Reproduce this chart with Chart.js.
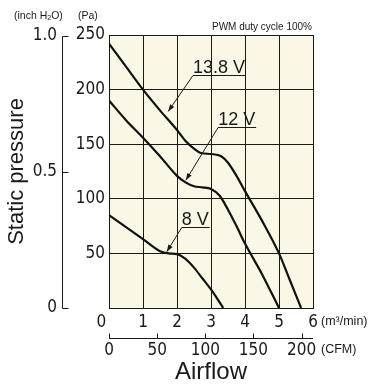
<!DOCTYPE html>
<html>
<head>
<meta charset="utf-8">
<script src="https://cdn.jsdelivr.net/npm/chart.js@4"></script>
<style>
  html, body { margin: 0; padding: 0; background: #fff; }
  canvas { display: block; }
</style>
</head>
<body>
<canvas id="chart" width="374" height="387"></canvas>
<script>
// airflow (m3/min) and static pressure (Pa)
const flow138 = [0, 0.5, 1, 1.5, 2, 2.25, 2.5, 2.7, 3.0, 3.3, 3.5, 3.75, 4, 4.5, 5, 5.3, 5.65];
const pa138 = [242, 221, 200, 181, 163, 153, 146, 142, 141, 139, 133, 121, 107, 80, 50, 27, 0];
const flow12 = [0, 0.5, 1, 1.5, 2, 2.25, 2.5, 2.75, 3.0, 3.25, 3.5, 3.75, 4, 4.5, 5];
const pa12 = [190, 172, 156, 139, 121, 115, 111.5, 110.5, 109, 103, 90, 75, 59, 31, 0];
const flow8 = [0, 0.5, 1, 1.5, 1.75, 2, 2.25, 2.5, 2.75, 3, 3.36];
const pa8 = [85, 74, 63, 52, 50, 49.3, 45, 37, 27, 17, 0];

const seriesNames = ["13.8 V", "12 V", "8 V"];

const flowTicks = [0, 1, 2, 3, 4, 5, 6];
const paTicks = [0, 50, 100, 150, 200, 250];
const cfmTicks = [0, 50, 100, 150, 200];
const inchTicks = [0, 0.5, 1.0];

const CFM_PER_M3MIN = 35.3147;
const PA_PER_INCH = 249.089;

const ink = "#1a1a1a";
const narrow = "'Liberation Sans Narrow', 'DejaVu Sans Condensed', Roboto, sans-serif";
const sans = "'Liberation Sans', Arial, sans-serif";
const tickFont = { family: narrow, size: 17 };

const toPoints = (xs, ys) => xs.map((v, i) => ({ x: v, y: ys[i] }));
const setTicks = (list) => (scale) => { scale.ticks = list.map((v) => ({ value: v })); };

// where each curve label sits (underline start, underline y, arrow tip)
const callouts = [
  { name: seriesNames[0], x0: 2.47, yLine: 213, tipX: 1.74, tipY: 180 },
  { name: seriesNames[1], x0: 3.21, yLine: 166, tipX: 2.26, tipY: 117 },
  { name: seriesNames[2], x0: 2.14, yLine: 74, tipX: 1.70, tipY: 51.5 },
];

const decor = {
  id: "decor",
  beforeDraw(chart) {
    const { ctx, chartArea: a } = chart;
    ctx.save();
    ctx.fillStyle = "#faf7e6";
    ctx.fillRect(a.left, a.top, a.right - a.left, a.bottom - a.top);
    ctx.restore();
  },
  afterDraw(chart) {
    const { ctx, scales } = chart;
    const { x, y, x2, y2 } = scales;
    ctx.save();
    ctx.strokeStyle = ink;
    ctx.fillStyle = ink;
    ctx.lineWidth = 1;

    // inch H2O axis, ticks pointing right
    const ax = Math.round(y2.right) + 0.5;
    ctx.beginPath();
    ctx.moveTo(ax, Math.round(y2.getPixelForValue(0)) + 0.5);
    ctx.lineTo(ax, Math.round(y2.getPixelForValue(1.0)) + 0.5);
    inchTicks.forEach((v) => {
      const py = Math.round(y2.getPixelForValue(v)) + 0.5;
      ctx.moveTo(ax, py);
      ctx.lineTo(ax + 6, py);
    });
    ctx.stroke();

    // CFM axis, ticks pointing up
    const ay = Math.round(x2.top) + 6.5;
    ctx.beginPath();
    ctx.moveTo(x.left, ay);
    ctx.lineTo(x.right, ay);
    cfmTicks.forEach((v) => {
      const px = Math.round(x2.getPixelForValue(v)) + 0.5;
      ctx.moveTo(px, ay);
      ctx.lineTo(px, ay - 5);
    });
    ctx.stroke();

    // unit captions
    ctx.textBaseline = "middle";
    ctx.textAlign = "left";
    ctx.font = "12.5px " + sans;
    ctx.fillText("(m\u00b3/min)", x.right + 8, x.top + 14);
    ctx.fillText("(CFM)", x.right + 8, x2.top + 18);

    ctx.font = "10.5px " + sans;
    let tx = 14;
    const ty = 16;
    ctx.fillText("(inch H", tx, ty);
    tx += ctx.measureText("(inch H").width;
    ctx.font = "7px " + sans;
    ctx.fillText("2", tx, ty + 2);
    tx += ctx.measureText("2").width;
    ctx.font = "10.5px " + sans;
    ctx.fillText("O)", tx, ty);
    ctx.fillText("(Pa)", 78, ty);

    ctx.textAlign = "right";
    ctx.font = "10px " + sans;
    ctx.fillText("PWM duty cycle 100%", x.right - 1, 27);

    // curve callouts
    ctx.textAlign = "left";
    ctx.textBaseline = "alphabetic";
    ctx.font = "18px " + sans;
    callouts.forEach((c) => {
      const lx = x.getPixelForValue(c.x0);
      const ly = Math.round(y.getPixelForValue(c.yLine)) + 0.5;
      const w = ctx.measureText(c.name).width;
      ctx.fillText(c.name, lx, ly - 3);
      const tipx = x.getPixelForValue(c.tipX);
      const tipy = y.getPixelForValue(c.tipY);
      ctx.beginPath();
      ctx.moveTo(lx + w + 1, ly);
      ctx.lineTo(lx, ly);
      ctx.lineTo(tipx, tipy);
      ctx.stroke();
      const ang = Math.atan2(tipy - ly, tipx - lx);
      ctx.beginPath();
      ctx.moveTo(tipx, tipy);
      ctx.lineTo(tipx - 7 * Math.cos(ang) + 2.5 * Math.sin(ang), tipy - 7 * Math.sin(ang) - 2.5 * Math.cos(ang));
      ctx.lineTo(tipx - 7 * Math.cos(ang) - 2.5 * Math.sin(ang), tipy - 7 * Math.sin(ang) + 2.5 * Math.cos(ang));
      ctx.closePath();
      ctx.fill();
    });
    ctx.restore();
  },
};

const lineStyle = {
  borderColor: "#111",
  borderWidth: 2.2,
  pointRadius: 0,
  cubicInterpolationMode: "monotone",
  fill: false,
};

new Chart(document.getElementById("chart"), {
  type: "line",
  data: {
    datasets: [
      { label: seriesNames[0], data: toPoints(flow138, pa138), ...lineStyle },
      { label: seriesNames[1], data: toPoints(flow12, pa12), ...lineStyle },
      { label: seriesNames[2], data: toPoints(flow8, pa8), ...lineStyle },
    ],
  },
  options: {
    responsive: false,
    animation: false,
    devicePixelRatio: 1,
    layout: { padding: { top: 35, right: 61, left: 0, bottom: 0 } },
    plugins: { legend: { display: false }, title: { display: false }, tooltip: { enabled: false } },
    scales: {
      x: {
        type: "linear",
        position: "bottom",
        weight: 0,
        min: 0,
        max: 6,
        afterBuildTicks: setTicks(flowTicks),
        afterFit: (s) => { s.height = 24; },
        grid: { color: ink, lineWidth: 1, drawTicks: false },
        border: { color: ink, width: 1 },
        ticks: {
          padding: 4,
          color: ink,
          font: tickFont,
          maxRotation: 0,
          autoSkip: false,
          callback: (v) => (v === 0 ? "0\u2003" : String(v)),
        },
      },
      x2: {
        type: "linear",
        position: "bottom",
        weight: 1,
        min: 0,
        max: 6 * CFM_PER_M3MIN,
        afterBuildTicks: setTicks(cfmTicks),
        afterFit: (s) => { s.height = 55; },
        grid: { display: false, drawTicks: false },
        border: { display: false },
        ticks: { padding: 8, color: ink, font: tickFont, maxRotation: 0, autoSkip: false },
        title: { display: true, text: "Airflow", color: ink, font: { family: sans, size: 24 }, padding: 0 },
      },
      y: {
        type: "linear",
        position: "left",
        weight: 0,
        min: 0,
        max: 250,
        afterBuildTicks: setTicks(paTicks),
        afterFit: (s) => { s.width = 47; },
        grid: { color: ink, lineWidth: 1, drawTicks: false },
        border: { color: ink, width: 1 },
        ticks: {
          padding: 4,
          color: ink,
          font: tickFont,
          callback: (v) => (v === 0 ? "" : String(v)),
        },
      },
      y2: {
        type: "linear",
        position: "left",
        weight: 1,
        min: 0,
        max: 250 / PA_PER_INCH,
        afterBuildTicks: setTicks(inchTicks),
        afterFit: (s) => { s.width = 62; },
        grid: { display: false, drawTicks: false },
        border: { display: false },
        ticks: {
          padding: 5,
          color: ink,
          font: tickFont,
          callback: (v) => (v === 0 ? "0" : v.toFixed(1)),
        },
        title: { display: true, text: "Static pressure", color: ink, font: { family: sans, size: 22 }, padding: { top: 4, bottom: 0 } },
      },
    },
  },
  plugins: [decor],
});
</script>
</body>
</html>
